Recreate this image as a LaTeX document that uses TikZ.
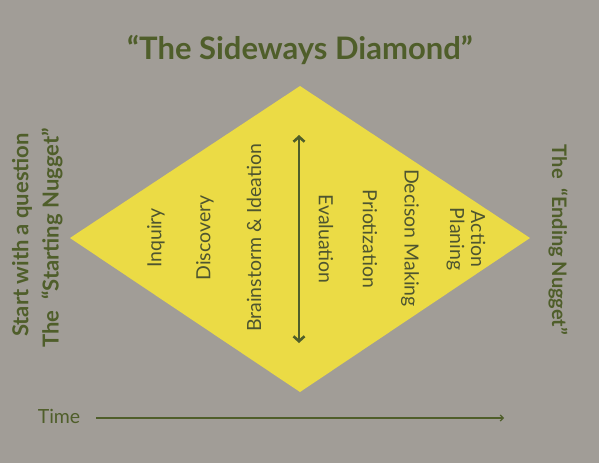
\documentclass[tikz,border=0pt]{standalone}
\usepackage{fontspec}
\setmainfont{Lato}
\usetikzlibrary{arrows.meta}
\definecolor{bg}{HTML}{A19D97}
\definecolor{dyel}{HTML}{EBDB45}
\definecolor{olive}{HTML}{4F5E2A}
\definecolor{itext}{HTML}{4E5530}
\tikzset{
  title/.style={text=olive,font=\bfseries\fontsize{31}{34}\selectfont},
  side/.style={text=olive,font=\bfseries\fontsize{22}{25}\selectfont},
  rside/.style={text=olive,font=\bfseries\fontsize{20}{23}\selectfont},
  inner/.style={text=itext,font=\fontsize{19.5}{21}\selectfont},
  conn/.style={draw=olive,line width=2.6pt},
}
\begin{document}
\begin{tikzpicture}[x=1pt,y=-1pt]
\fill[bg] (0,0) rectangle (599,463);
\useasboundingbox (0,0) rectangle (599,463);
\coordinate (T) at (300,86);
\coordinate (R) at (530,238);
\coordinate (B) at (300,392);
\coordinate (L) at (70,238);
\fill[dyel] (T) -- (R) -- (B) -- (L) -- cycle;
\node[title] (title) at (300,50) {“The Sideways Diamond”};
\node[side,rotate=90] (s1) at (22,235) {Start with a question};
\node[side,rotate=90] (s2) at (52,238) {The \ “Starting Nugget”};
\node[rside,rotate=-90] (e1) at (558,240) {The \ “Ending Nugget”};
\node[inner,rotate=90] (n1) at (156,238) {Inquiry};
\node[inner,rotate=90] (n2) at (205,238) {Discovery};
\node[inner,rotate=90] (n3) at (254,238) {Brainstorm \& Ideation};
\node[inner,rotate=-90] (n4) at (326,239) {Evaluation};
\node[inner,rotate=-90] (n5) at (370,239) {Priotization};
\node[inner,rotate=-90] (n6) at (410,238) {Decison Making};
\node[inner,rotate=-90,align=center] (n7) at (466,239) {Action\\Planing};
\coordinate (at) at (299,135);
\coordinate (ab) at (299,343);
\draw[conn,{Straight Barb[length=5pt,width=11pt]}-{Straight Barb[length=5pt,width=11pt]}] (at) -- (ab);
\node[text=olive,font=\fontsize{19.5}{22}\selectfont] (time) at (59,416) {Time};
\coordinate (t0) at (96,418);
\coordinate (t1) at (504,418);
\draw[draw=olive,line width=1.2pt,-{Straight Barb[length=3pt,width=6pt]}] (t0) -- (t1);
\end{tikzpicture}
\end{document}
